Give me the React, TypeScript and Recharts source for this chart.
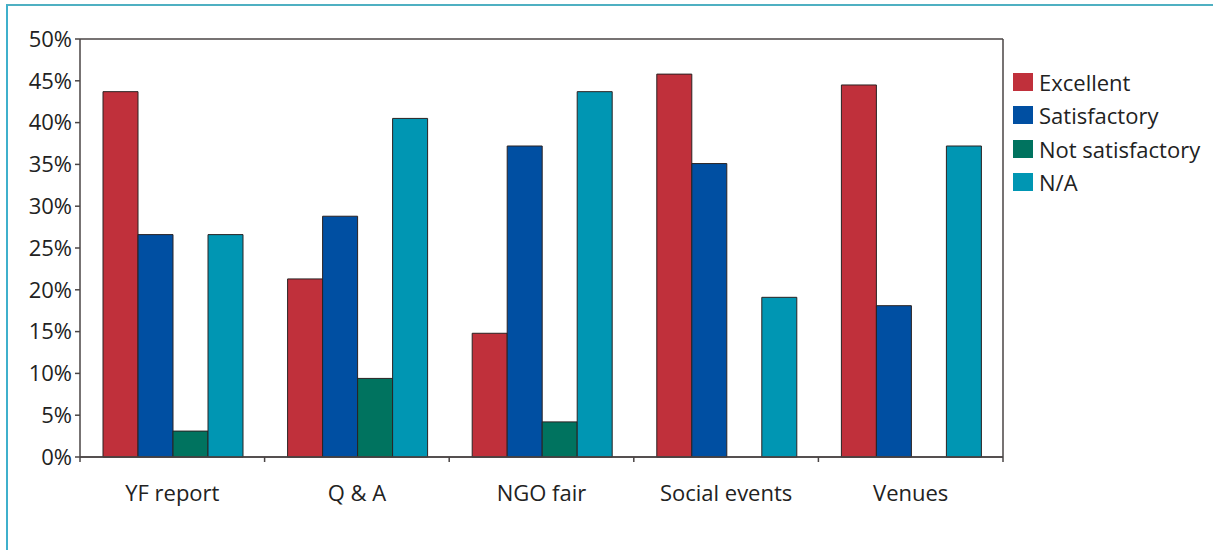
import React from 'react';
import { BarChart, Bar, XAxis, YAxis, CartesianGrid } from 'recharts';

const categories = ['YF report', 'Q & A', 'NGO fair', 'Social events', 'Venues'];
const excellent = [43.7, 21.3, 14.8, 45.8, 44.5];
const satisfactory = [26.6, 28.8, 37.2, 35.1, 18.1];
const notSatisfactory = [3.1, 9.4, 4.2, 0, 0];
const notApplicable = [26.6, 40.5, 43.7, 19.1, 37.2];
const yTicks = [0, 5, 10, 15, 20, 25, 30, 35, 40, 45, 50];

const seriesNames = ['Excellent', 'Satisfactory', 'Not satisfactory', 'N/A'];
const seriesColors = ['#C0303B', '#004FA2', '#00735F', '#0096B3'];
const seriesKeys = ['excellent', 'satisfactory', 'notSatisfactory', 'na'];

const data = categories.map((c, i) => ({
  name: c,
  excellent: excellent[i],
  satisfactory: satisfactory[i],
  notSatisfactory: notSatisfactory[i],
  na: notApplicable[i],
}));

const FONT = '"Open Sans", sans-serif';
const FS = 22;
const AXIS = '#4a4545';

const CatTick = (props: any) => {
  const { x, y, payload, index, visibleTicksCount } = props;
  const half = payload && payload.offset ? payload.offset : 92.3;
  const last = index === visibleTicksCount - 1;
  return (
    <g>
      <line x1={x - half} x2={x - half} y1={y} y2={y + 5} stroke={AXIS} strokeWidth={1.5} />
      {last && <line x1={x + half} x2={x + half} y1={y} y2={y + 5} stroke={AXIS} strokeWidth={1.5} />}
      <text x={x} y={y + 44} textAnchor="middle" fill="#222" fontFamily={FONT} fontSize={FS}>
        {payload.value}
      </text>
    </g>
  );
};

const LegendBox = () => (
  <div style={{ position: 'absolute', left: 1013, top: 65, fontFamily: FONT, fontSize: FS, color: '#222' }}>
    {seriesNames.map((n, i) => (
      <div key={n} style={{ display: 'flex', alignItems: 'center', height: 33.5 }}>
        <div style={{ width: 20, height: 18, background: seriesColors[i], marginRight: 6 }} />
        <span style={{ lineHeight: '22px', whiteSpace: 'nowrap' }}>{n}</span>
      </div>
    ))}
  </div>
);

export default function App() {
  return (
    <div style={{ position: 'absolute', left: 0, top: 0, width: 1213, height: 550, background: '#fff', overflow: 'hidden' }}>
      <div style={{ position: 'absolute', left: 6, top: 4, right: -10, bottom: -10, borderTop: '2px solid #4fb0c2', borderLeft: '2px solid #3fb0cc' }} />
      <BarChart
        width={1213}
        height={550}
        data={data}
        margin={{ top: 39, left: 8, right: 205, bottom: 63 }}
        barCategoryGap={23}
        barGap={0}
      >
        <CartesianGrid vertical={false} stroke={AXIS} strokeWidth={1.5} />
        <XAxis
          dataKey="name"
          height={30}
          tickSize={0}
          tickMargin={0}
          tickLine={false}
          axisLine={{ stroke: AXIS, strokeWidth: 1.5 }}
          tick={<CatTick />}
          interval={0}
        />
        <YAxis
          yAxisId="l"
          width={72}
          domain={[0, 50]}
          ticks={yTicks}
          tickFormatter={(v: number) => `${v}%`}
          tickSize={5}
          tickMargin={3}
          interval={0}
          axisLine={{ stroke: AXIS, strokeWidth: 1.5 }}
          tickLine={{ stroke: AXIS, strokeWidth: 1.5 }}
          tick={{ fill: '#222', fontFamily: FONT, fontSize: FS }}
        />
        <YAxis
          yAxisId="r"
          orientation="right"
          width={5}
          domain={[0, 50]}
          ticks={yTicks}
          tickSize={5}
          interval={0}
          tick={false}
          axisLine={{ stroke: AXIS, strokeWidth: 1.5 }}
          tickLine={{ stroke: AXIS, strokeWidth: 1.5 }}
        />
        {seriesKeys.map((k, i) => (
          <Bar
            key={k}
            yAxisId="l"
            dataKey={k}
            name={seriesNames[i]}
            fill={seriesColors[i]}
            stroke="#2a2222"
            strokeWidth={1}
            isAnimationActive={false}
          />
        ))}
      </BarChart>
      <LegendBox />
    </div>
  );
}
